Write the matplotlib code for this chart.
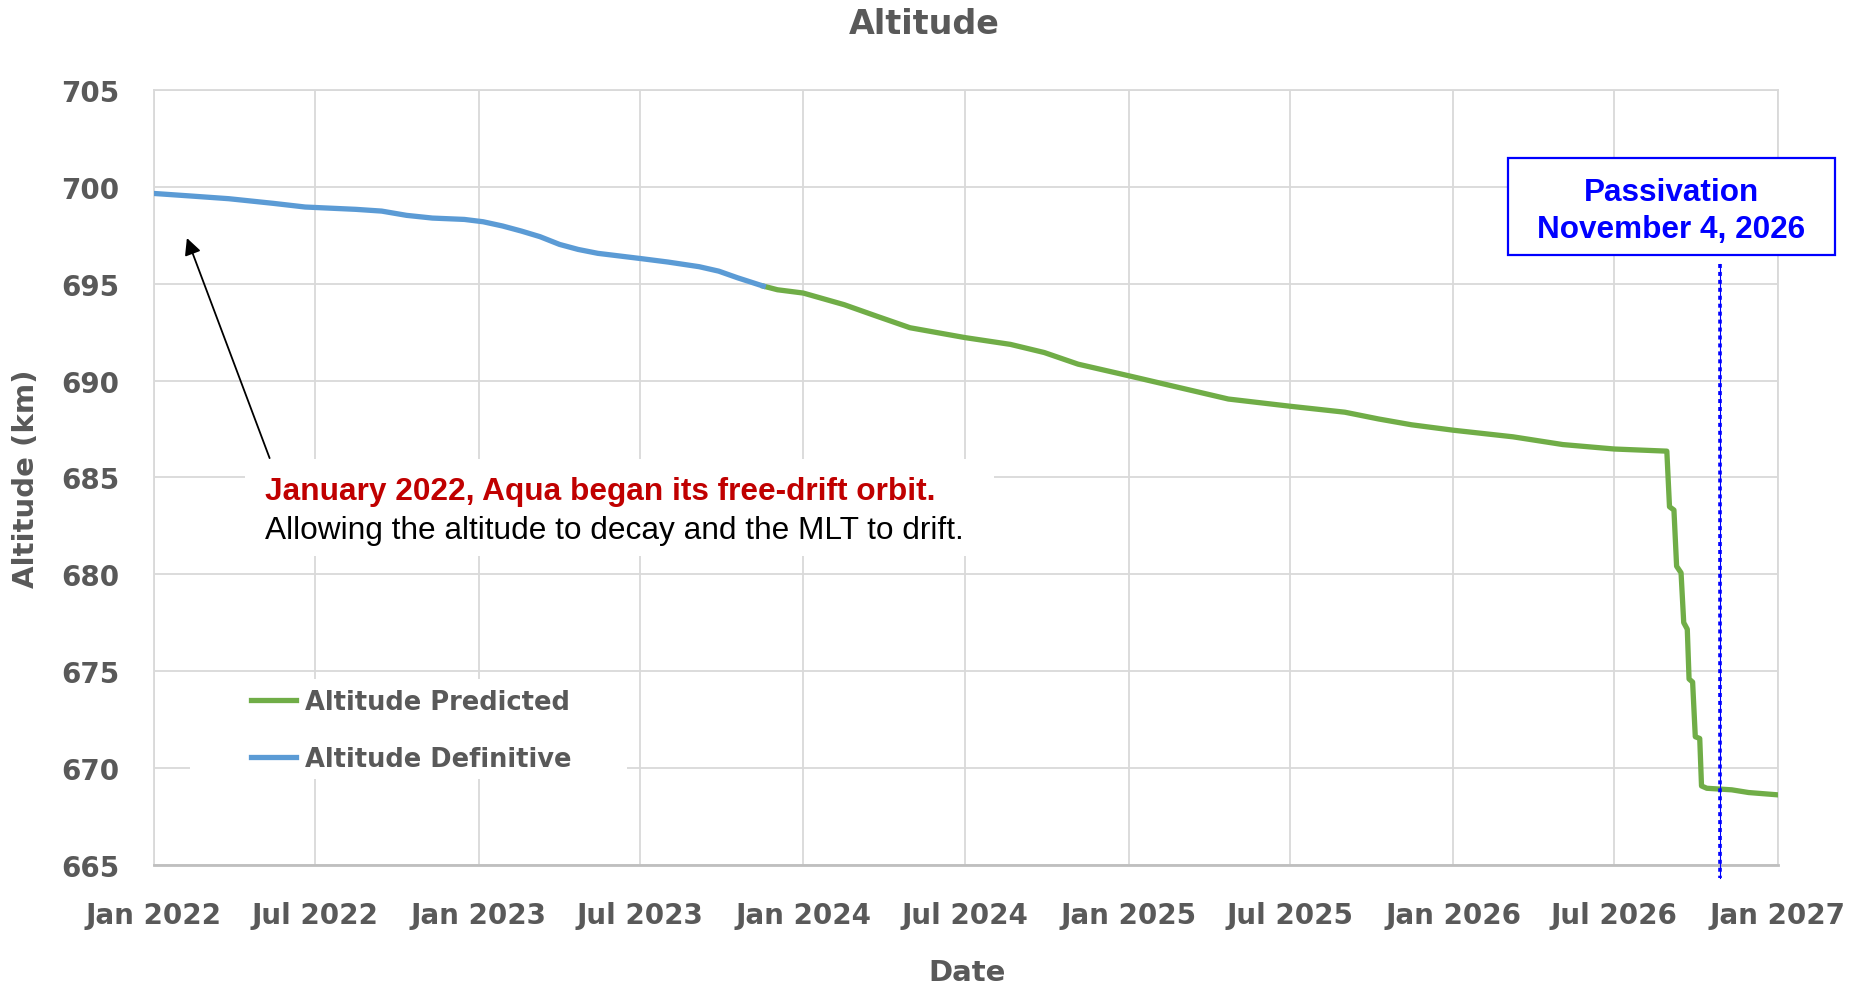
import matplotlib
matplotlib.use("Agg")
import matplotlib.dates as mdates
import matplotlib.pyplot as plt
import pandas as pd
from matplotlib.lines import Line2D
from matplotlib.patches import Rectangle

# Altitude Definitive (blue)
definitive_dates = [
    "2022-01-01", "2022-02-11", "2022-03-26", "2022-05-15", "2022-06-20",
    "2022-08-16", "2022-09-14", "2022-10-12", "2022-11-10", "2022-12-16",
    "2023-01-06", "2023-01-28", "2023-02-18", "2023-03-11", "2023-04-02",
    "2023-04-23", "2023-05-15", "2023-07-04", "2023-08-02", "2023-09-06",
    "2023-09-28", "2023-10-19", "2023-11-17",
]
definitive_alt = [
    699.66, 699.53, 699.39, 699.15, 698.96,
    698.84, 698.75, 698.53, 698.39, 698.32,
    698.20, 697.98, 697.72, 697.43, 697.03,
    696.77, 696.57, 696.29, 696.12, 695.88,
    695.65, 695.31, 694.88,
]

# Altitude Predicted (green)
predicted_dates = [
    "2023-11-17", "2023-12-03", "2024-01-01", "2024-02-16", "2024-03-24",
    "2024-04-30", "2024-07-01", "2024-08-21", "2024-09-28", "2024-11-05",
    "2025-01-01", "2025-02-26", "2025-04-23", "2025-07-01", "2025-09-01",
    "2025-10-09", "2025-11-15", "2026-01-01", "2026-03-09", "2026-05-04",
    "2026-07-01", "2026-08-29", "2026-09-01", "2026-09-06", "2026-09-09",
    "2026-09-14", "2026-09-17", "2026-09-21", "2026-09-23", "2026-09-27",
    "2026-09-30", "2026-10-05", "2026-10-07", "2026-10-13", "2026-11-10",
    "2026-11-29", "2027-01-01",
]
predicted_alt = [
    694.88, 694.69, 694.52, 693.92, 693.32,
    692.73, 692.22, 691.87, 691.45, 690.85,
    690.25, 689.65, 689.05, 688.68, 688.37,
    688.02, 687.72, 687.44, 687.10, 686.70,
    686.47, 686.36, 683.49, 683.32, 680.42,
    680.08, 677.51, 677.17, 674.60, 674.44,
    671.62, 671.53, 669.08, 668.96, 668.88,
    668.74, 668.62,
]

passivation_date = "2026-10-28"
passivation_label = ["Passivation", "November 4, 2026"]
note_red = "January 2022, Aqua began its free-drift orbit."
note_black = "Allowing the altitude to decay and the MLT to drift."

GREEN = "#70AD47"
BLUE = "#5B9BD5"
GREY = "#595959"
GRID = "#D9D9D9"
W, H = 1860, 987


def fx(px):
    return px / W


def fy(py):
    return 1 - py / H


fig = plt.figure(figsize=(W / 100, H / 100), dpi=100)
ax = fig.add_axes([fx(154), fy(866), (1778 - 154) / W, (866 - 91) / H])

d_def = pd.to_datetime(definitive_dates)
d_pred = pd.to_datetime(predicted_dates)
ax.plot(d_pred, predicted_alt, color=GREEN, lw=3.8, zorder=3, solid_joinstyle="round")
ax.plot(d_def, definitive_alt, color=BLUE, lw=3.8, zorder=3, solid_joinstyle="round")

ax.set_xlim(pd.Timestamp("2022-01-01"), pd.Timestamp("2027-01-01"))
ax.set_ylim(665, 705)
ax.set_yticks(range(665, 706, 5))
ax.xaxis.set_major_locator(mdates.MonthLocator(bymonth=[1, 7]))
ax.xaxis.set_major_formatter(mdates.DateFormatter("%b %Y"))
ax.grid(True, color=GRID, lw=1.3)
ax.set_axisbelow(True)
for s in ax.spines.values():
    s.set_color(GRID)
    s.set_linewidth(1.3)
ax.spines["bottom"].set_color("#BFBFBF")
ax.spines["bottom"].set_linewidth(2)
ax.tick_params(length=0, labelsize=20, labelcolor=GREY)
ax.tick_params(axis="y", pad=25)
ax.tick_params(axis="x", pad=26)
for lab in ax.get_xticklabels() + ax.get_yticklabels():
    lab.set_fontweight("bold")

# white patches behind the note and the legend
ax.add_patch(Rectangle((0.056, 0.399), 0.461, 0.125, transform=ax.transAxes,
                       facecolor="white", edgecolor="none", zorder=1))
ax.add_patch(Rectangle((0.022, 0.111), 0.269, 0.129, transform=ax.transAxes,
                       facecolor="white", edgecolor="none", zorder=1))

handles = [Line2D([], [], color=GREEN, lw=3.8), Line2D([], [], color=BLUE, lw=3.8)]
leg = ax.legend(handles, ["Altitude Predicted", "Altitude Definitive"],
                loc="upper left", bbox_to_anchor=(0.0596, 0.2273), frameon=False,
                borderpad=0, borderaxespad=0, handlelength=1.75, handletextpad=0.35,
                labelspacing=1.23, prop={"size": 18.5, "weight": "bold"}, labelcolor=GREY)

# passivation marker
pdate = pd.Timestamp(passivation_date)
ax.plot([pdate, pdate], [696.0, 664.35], color="blue", lw=0.8, clip_on=False, zorder=4)
ax.plot([pdate, pdate], [696.0, 664.35], color="blue", lw=2.6, ls=(0, (1.1, 1.1)),
        clip_on=False, zorder=4)
fig.patches.append(Rectangle((fx(1508), fy(256)), (1835 - 1508) / W, (256 - 159) / H,
                             transform=fig.transFigure, facecolor="white",
                             edgecolor="blue", lw=1.6, zorder=5))
fig.text(fx(1671), fy(201), passivation_label[0], ha="center", va="baseline",
         color="blue", fontsize=22.7, fontweight="bold", family="Liberation Sans", zorder=6)
fig.text(fx(1671), fy(238), passivation_label[1], ha="center", va="baseline",
         color="blue", fontsize=22.7, fontweight="bold", family="Liberation Sans", zorder=6)

# note and arrow
ax.annotate("", xy=(pd.Timestamp("2022-02-07"), 697.36), xytext=(pd.Timestamp("2022-05-11"), 686.0),
            arrowprops=dict(arrowstyle="-|>", color="black", lw=1.3, mutation_scale=25,
                            shrinkA=0, shrinkB=0), zorder=5)
fig.text(fx(265), fy(500), note_red, ha="left", va="baseline", color="#C00000",
         fontsize=22.8, fontweight="bold", family="Liberation Sans")
fig.text(fx(265), fy(539), note_black, ha="left", va="baseline", color="black",
         fontsize=22.8, family="Liberation Sans")

fig.text(fx(924), fy(24), "Altitude", ha="center", va="center", color=GREY,
         fontsize=24, fontweight="bold")
fig.text(fx(967), fy(973), "Date", ha="center", va="center", color=GREY,
         fontsize=21, fontweight="bold")
fig.text(fx(26), fy(478.5), "Altitude (km)", ha="center", va="center", rotation=90,
         color=GREY, fontsize=21, fontweight="bold")

fig.savefig("out.png", dpi=100, facecolor="white")
